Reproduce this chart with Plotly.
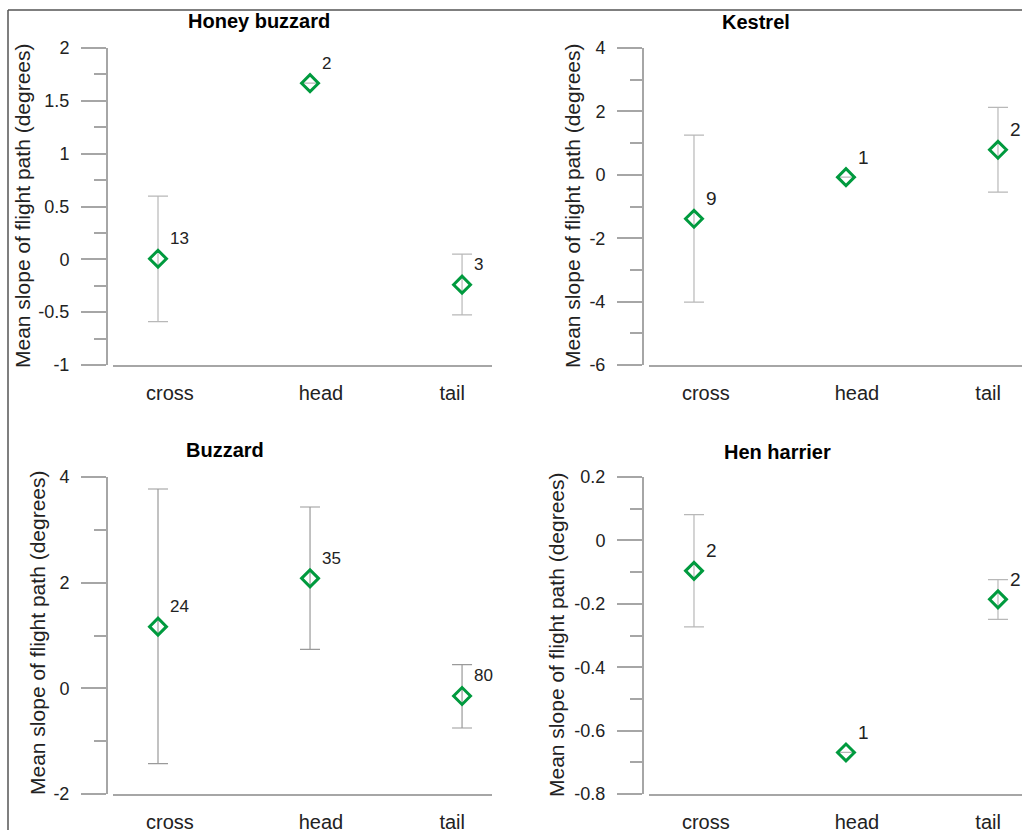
import plotly.graph_objects as go

W, H = 1022, 830

categories = ["cross", "head", "tail"]
panel_titles = ["Honey buzzard", "Kestrel", "Buzzard", "Hen harrier"]

# means, CI bounds, sample sizes
hb_mean = [0.006, 1.667, -0.240]
hb_upper = [0.599, None, 0.050]
hb_lower = [-0.589, None, -0.526]
hb_n = ["13", "2", "3"]

ke_mean = [-1.388, -0.074, 0.789]
ke_upper = [1.251, None, 2.124]
ke_lower = [-4.017, None, -0.547]
ke_n = ["9", "1", "2"]

bu_mean = [1.167, 2.082, -0.145]
bu_upper = [3.773, 3.432, 0.448]
bu_lower = [-1.426, 0.738, -0.751]
bu_n = ["24", "35", "80"]

hh_mean = [-0.096, -0.669, -0.186]
hh_upper = [0.081, None, -0.124]
hh_lower = [-0.273, None, -0.249]
hh_n = ["2", "1", "2"]

# y tick values and labels per panel
hb_ticks = [-1, -0.5, 0, 0.5, 1, 1.5, 2]
hb_ticklabels = ["-1", "-0.5", "0", "0.5", "1", "1.5", "2"]
ke_ticks = [-6, -4, -2, 0, 2, 4]
ke_ticklabels = ["-6", "-4", "-2", "0", "2", "4"]
bu_ticks = [-2, 0, 2, 4]
bu_ticklabels = ["-2", "0", "2", "4"]
hh_ticks = [-0.8, -0.6, -0.4, -0.2, 0, 0.2]
hh_ticklabels = ["-0.8", "-0.6", "-0.4", "-0.2", "0", "0.2"]

# ---- layout geometry (pixels) ----
FONT = "Liberation Sans, Arial, sans-serif"
TXT = "#222222"
AXC = "#a6a6a6"
GREEN = "#009a3e"
LABEL_POS = [0.078, 1.072, 1.935]

panels = [
    dict(mean=hb_mean, up=hb_upper, lo=hb_lower, n=hb_n, tv=hb_ticks, tt=hb_ticklabels,
         yax=107, xd=(113, 492), yd=(48, 365),
         xr=[-0.296, 2.197], title_xy=(259, 21), ytitle_xy=(22, 206), nfont=17, errc="#b8b8b8"),
    dict(mean=ke_mean, up=ke_upper, lo=ke_lower, n=ke_n, tv=ke_ticks, tt=ke_ticklabels,
         yax=643, xd=(649, 1022), yd=(48, 365),
         xr=[-0.296, 2.158], title_xy=(756, 22), ytitle_xy=(572, 206), nfont=19, errc="#b8b8b8"),
    dict(mean=bu_mean, up=bu_upper, lo=bu_lower, n=bu_n, tv=bu_ticks, tt=bu_ticklabels,
         yax=107, xd=(113, 492), yd=(477, 794),
         xr=[-0.296, 2.197], title_xy=(225, 450), ytitle_xy=(37, 633), nfont=17, errc="#9a9a9a"),
    dict(mean=hh_mean, up=hh_upper, lo=hh_lower, n=hh_n, tv=hh_ticks, tt=hh_ticklabels,
         yax=643, xd=(649, 1022), yd=(477, 794),
         xr=[-0.296, 2.158], title_xy=(777, 452), ytitle_xy=(556, 635), nfont=19, errc="#b8b8b8"),
]

fig = go.Figure()
annotations = []
xpos = list(range(len(categories)))

for i, p in enumerate(panels):
    k = "" if i == 0 else str(i + 1)
    xa, ya = "x" + k, "y" + k
    plus = [None if u is None else u - m for u, m in zip(p["up"], p["mean"])]
    minus = [None if l is None else m - l for l, m in zip(p["lo"], p["mean"])]
    fig.add_trace(go.Scatter(
        x=xpos, y=p["mean"], mode="markers", xaxis=xa, yaxis=ya, showlegend=False,
        marker=dict(symbol="diamond-open", size=13, color=GREEN, line=dict(width=3, color=GREEN)),
        error_y=dict(type="data", symmetric=False, array=plus, arrayminus=minus,
                     color=p["errc"], thickness=1.2, width=10),
    ))
    for xv, yv, t in zip(xpos, p["mean"], p["n"]):
        annotations.append(dict(x=xv, y=yv, xref=xa, yref=ya, text=t, showarrow=False,
                                xanchor="left", yanchor="middle", xshift=10, yshift=20,
                                font=dict(family=FONT, size=p["nfont"], color=TXT)))
    x0, x1 = p["xd"]
    yt, yb = p["yd"]
    tv = p["tv"]
    minor_vals = [(a + b) / 2 for a, b in zip(tv[:-1], tv[1:])]
    fig.layout["xaxis" + k] = dict(
        domain=[x0 / W, x1 / W], range=p["xr"], anchor=ya, showline=True, linecolor=AXC,
        linewidth=2, ticks="", tickmode="array", tickvals=LABEL_POS, ticktext=categories,
        showgrid=False, zeroline=False, ticklabelstandoff=9, automargin=False,
        tickfont=dict(family=FONT, size=20, color=TXT), fixedrange=True)
    fig.layout["yaxis" + k] = dict(
        domain=[1 - yb / H, 1 - yt / H], range=[tv[0], tv[-1]], anchor="free", position=p["yax"] / W,
        showline=True, linecolor=AXC, linewidth=2, ticks="outside", ticklen=25, tickwidth=1.5,
        tickcolor=AXC, tickmode="array", tickvals=tv, ticktext=p["tt"], showgrid=False, zeroline=False,
        ticklabelstandoff=8, automargin=False,
        minor=dict(ticks="outside", ticklen=12, tickwidth=1.5, tickcolor=AXC,
                   tickmode="array", tickvals=minor_vals, showgrid=False),
        tickfont=dict(family=FONT, size=18, color=TXT), fixedrange=True)
    tx, ty = p["title_xy"]
    annotations.append(dict(x=tx / W, y=1 - ty / H, xref="paper", yref="paper", text="<b>%s</b>" % panel_titles[i],
                            showarrow=False, xanchor="center", yanchor="middle",
                            font=dict(family=FONT, size=20, color="#000000")))
    ax_, ay_ = p["ytitle_xy"]
    annotations.append(dict(x=ax_ / W, y=1 - ay_ / H, xref="paper", yref="paper",
                            text="Mean slope of flight path (degrees)", textangle=-90,
                            showarrow=False, xanchor="center", yanchor="middle",
                            font=dict(family=FONT, size=21, color=TXT)))

shapes = [
    dict(type="line", xref="paper", yref="paper", x0=8 / W, x1=8 / W, y0=0, y1=1 - 10 / H,
         line=dict(color="#555555", width=1.5)),
    dict(type="line", xref="paper", yref="paper", x0=8 / W, x1=1, y0=1 - 10 / H, y1=1 - 10 / H,
         line=dict(color="#555555", width=1.5)),
]

fig.update_layout(width=W, height=H, margin=dict(l=0, r=0, t=0, b=0), template="none",
                  paper_bgcolor="white", plot_bgcolor="white", annotations=annotations,
                  shapes=shapes, showlegend=False)

fig.write_html("out.html")
